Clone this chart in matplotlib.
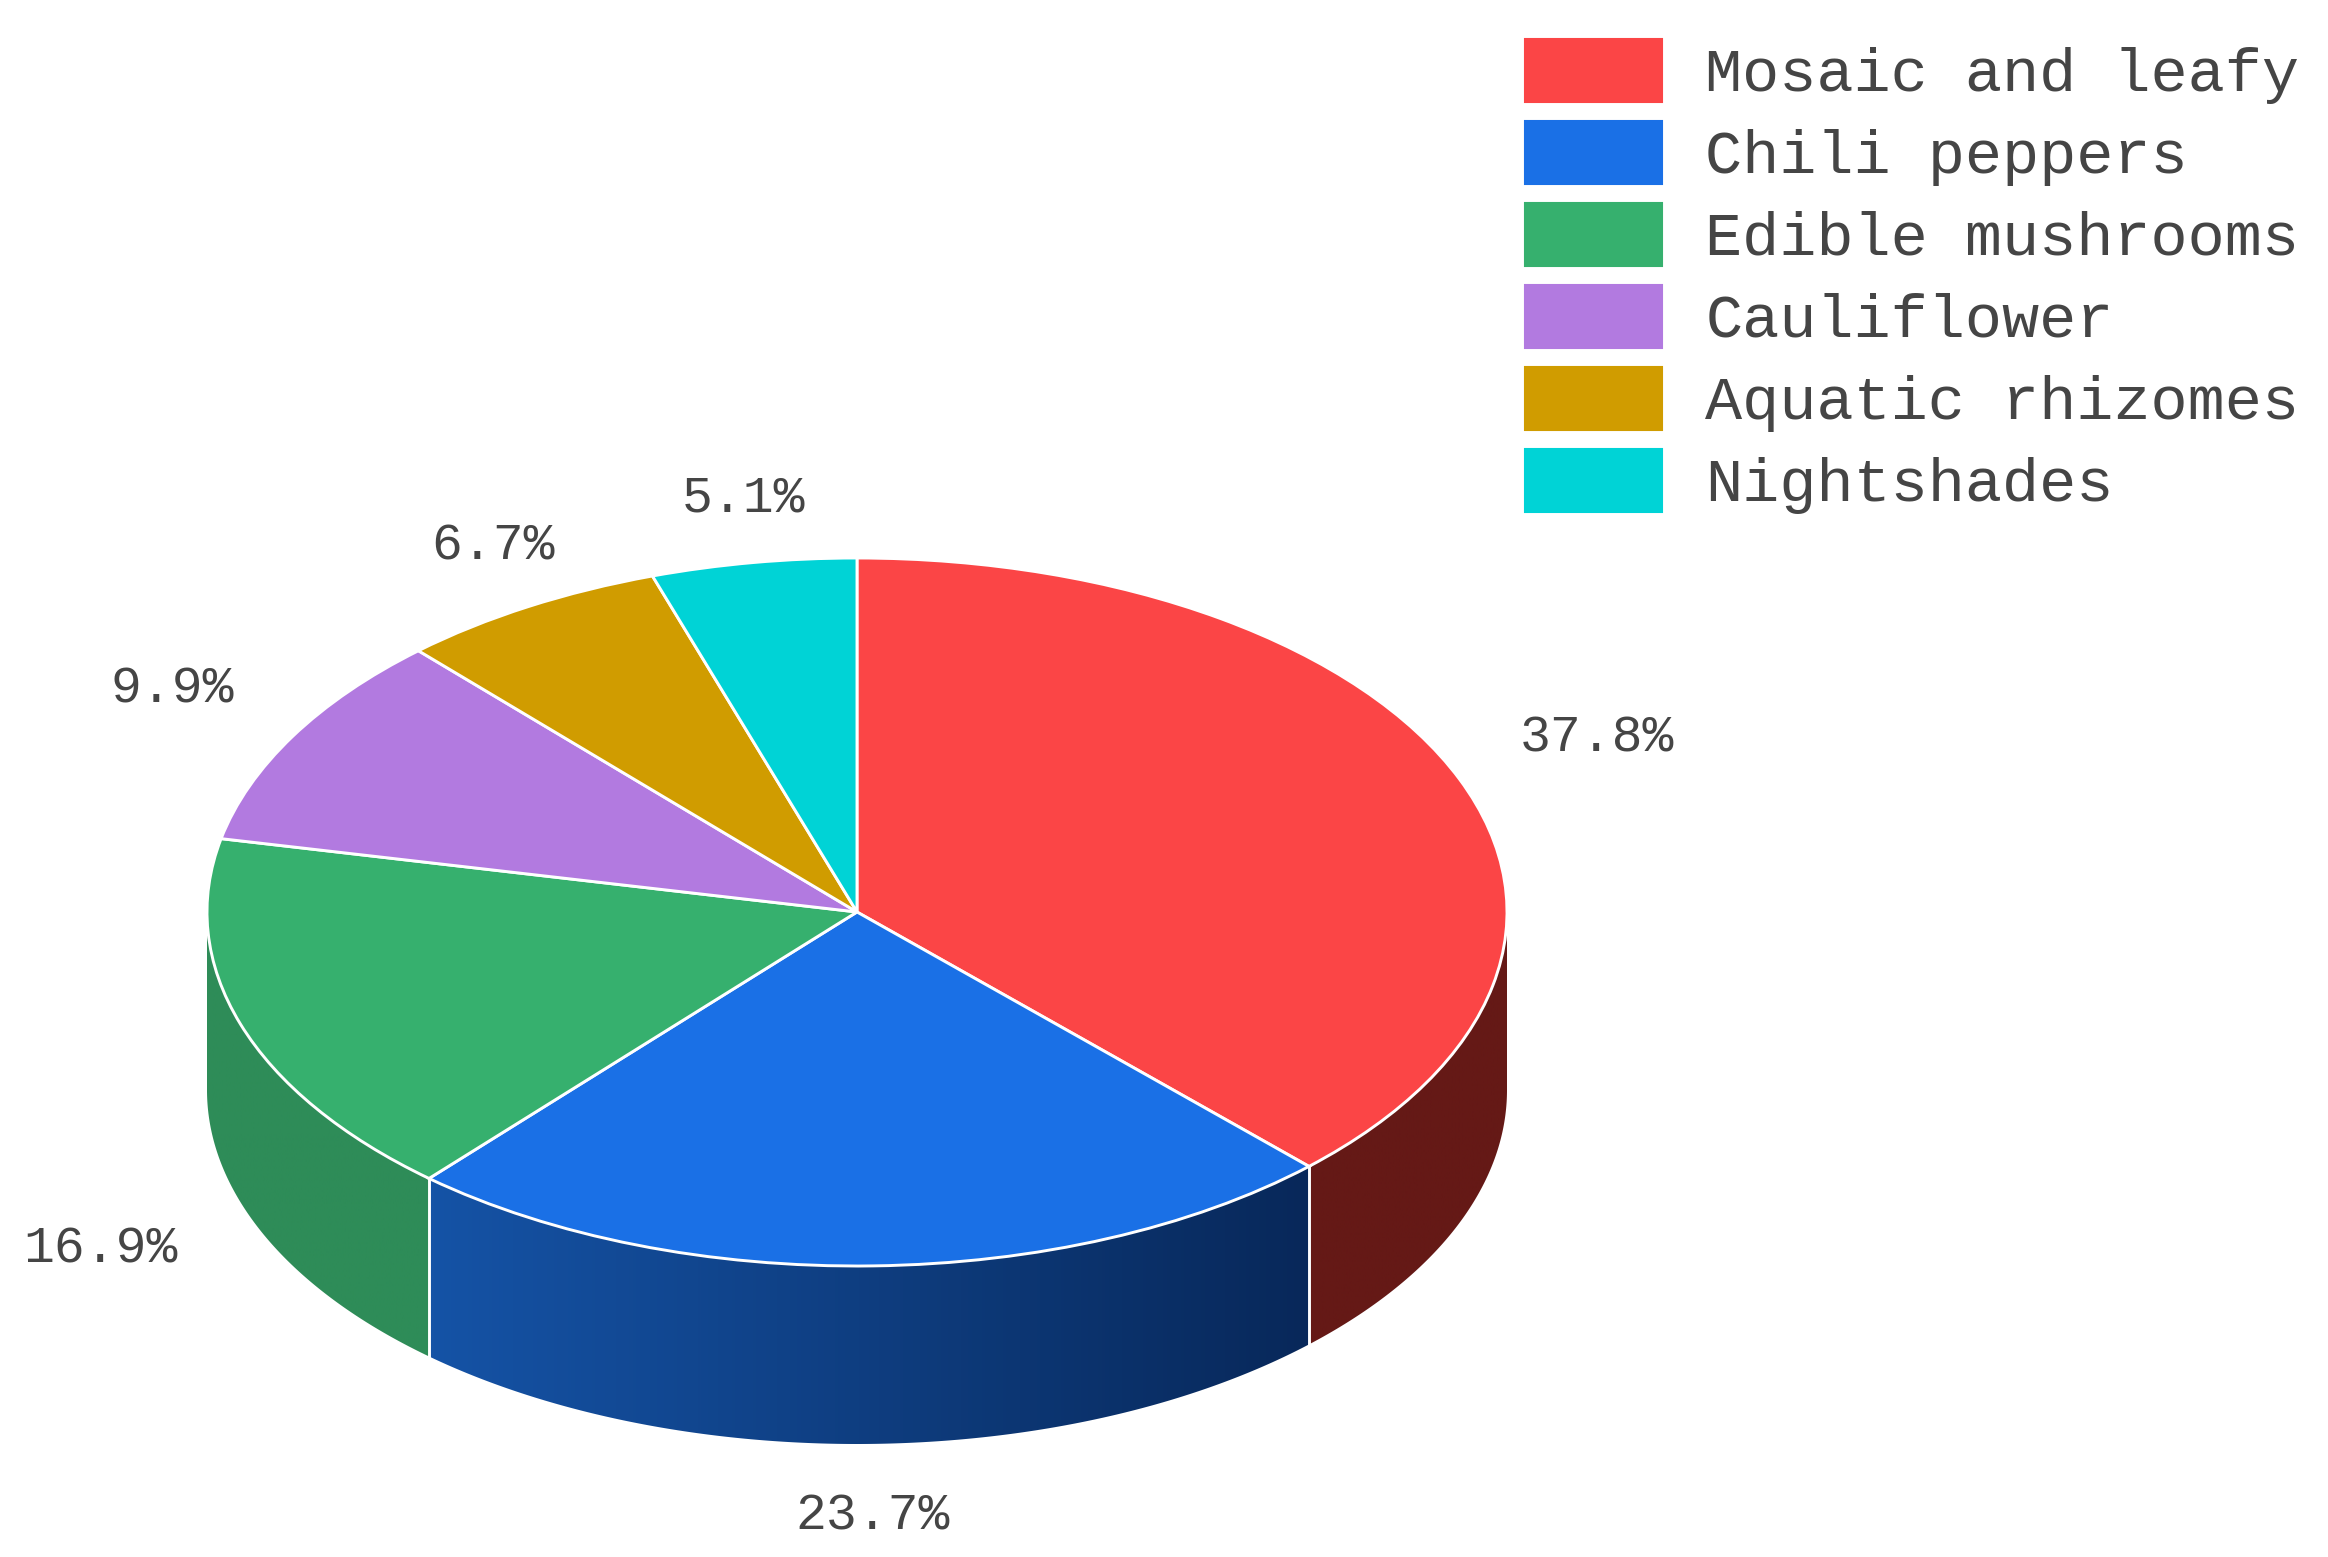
import numpy as np
import matplotlib
matplotlib.use('Agg')
import matplotlib.pyplot as plt
from matplotlib.colors import LinearSegmentedColormap
from matplotlib.patches import Polygon

categories = ['Mosaic and leafy', 'Chili peppers', 'Edible mushrooms',
              'Cauliflower', 'Aquatic rhizomes', 'Nightshades']
shares = [37.8, 23.7, 16.9, 9.9, 6.7, 5.1]
colors = ['#FB4546', '#1A70E6', '#36B06E', '#B27AE0', '#D09C00', '#00D3D6']
# side wall colours, left to right
wall_colors = [('#651916', '#651916'), ('#1553A6', '#08285A'), ('#2E8C58', '#2E8C58'),
               None, None, None]

W, H = 2328, 1557
CX, CY = 857, 912    # pie centre, px
RX, RY = 650, 354    # ellipse radii, px
DEPTH = 178 / RY
TEXT = '#454545'

# label centres in px
label_xy = [(1597, 738), (873, 1516), (100, 1249), (172, 689), (493, 546), (743, 498)]

fig = plt.figure(figsize=(W / 100, H / 100), dpi=100)
ax = fig.add_axes([0, 0, 1, 1])

wedges, _ = ax.pie(shares, startangle=90, counterclock=False, colors=colors,
                   wedgeprops=dict(edgecolor='white', linewidth=2.1, zorder=5))
ax.set_aspect('auto')

# 3d wall under the front half
edges = np.concatenate([[0], np.cumsum(shares) / np.sum(shares)]) * 2 * np.pi
for i, wall in enumerate(wall_colors):
    if wall is None:
        continue
    start = max(edges[i], np.pi / 2)
    stop = min(edges[i + 1], 3 * np.pi / 2)
    th = np.linspace(start, stop, 200)
    x, y = np.sin(th), np.cos(th)
    outline = np.column_stack([np.r_[x, x[::-1]], np.r_[y, y[::-1] - DEPTH]])
    clip = Polygon(outline, closed=True, transform=ax.transData, fc='none', ec='none')
    ax.add_patch(clip)
    cmap = LinearSegmentedColormap.from_list('wall%d' % i, wall)
    grad = np.linspace(0, 1, 256).reshape(1, -1)
    im = ax.imshow(grad, cmap=cmap, aspect='auto', zorder=2, interpolation='bilinear',
                   extent=[x.min(), x.max(), outline[:, 1].min(), outline[:, 1].max()])
    im.set_clip_path(clip)

# white seams between the walls
for e in edges[1:3]:
    ax.plot([np.sin(e)] * 2, [np.cos(e), np.cos(e) - DEPTH], color='white', lw=2.1, zorder=4)

ax.set_xlim(-CX / RX, (W - CX) / RX)
ax.set_ylim((CY - H) / RY, CY / RY)
ax.axis('off')

for share, (px, py) in zip(shares, label_xy):
    fig.text(px / W, 1 - py / H, '%.1f%%' % share, ha='center', va='center',
             family='Liberation Mono', fontsize=37, color=TEXT)

leg = ax.legend(wedges, categories, loc='upper left', bbox_to_anchor=(1522 / W, 1 - 36 / H),
                bbox_transform=fig.transFigure, frameon=False, borderpad=0, borderaxespad=0,
                prop=dict(family='Liberation Mono', size=44.6), labelcolor=TEXT,
                handlelength=2.3, handleheight=1.32, handletextpad=0.66, labelspacing=0.22)

fig.savefig('out.png', dpi=100, facecolor='white')
